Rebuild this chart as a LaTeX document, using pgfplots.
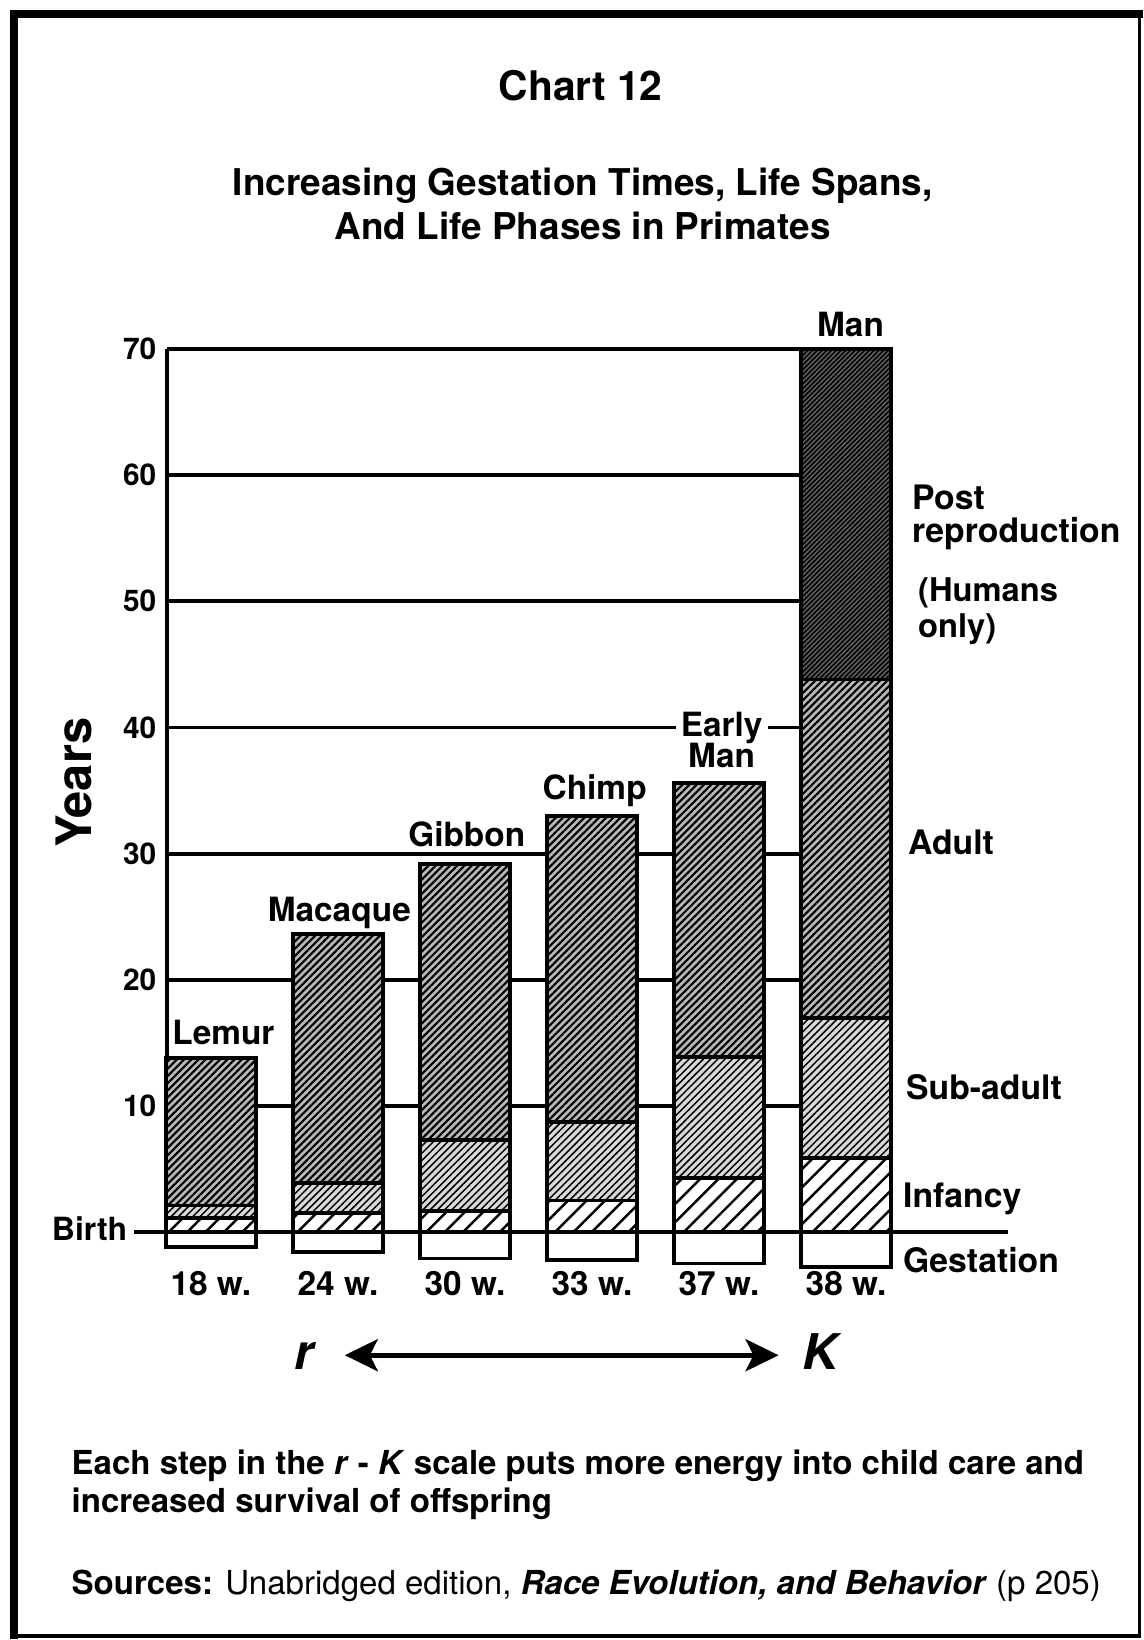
\documentclass[border=0pt]{standalone}
\usepackage{pgfplots}
\pgfplotsset{compat=1.18}
\usetikzlibrary{patterns.meta,arrows.meta}
\usepackage{fontspec}
\setmainfont{TeX Gyre Heros}
\newcommand{\fs}[1]{\fontsize{#1}{#1}\selectfont}
\tikzset{
  barbase/.style={ybar, bar shift=0pt, draw=black, line width=1.1pt},
  postpat/.style={preaction={fill=black!62}, preaction={pattern={Lines[angle=45,distance=0.95pt,line width=0.45pt]}, pattern color=black}},
  adultpat/.style={preaction={fill=black!28}, preaction={pattern={Lines[angle=45,distance=1.45pt,line width=0.6pt]}, pattern color=black}},
  subpat/.style={preaction={fill=black!15}, preaction={pattern={Lines[angle=45,distance=1.45pt,line width=0.42pt]}, pattern color=black}},
  infpat/.style={preaction={fill=white}, preaction={pattern={Lines[angle=45,distance=3.7pt,line width=0.7pt]}, pattern color=black}},
  gestpat/.style={fill=white},
}
\begin{document}
\begin{tikzpicture}
\path[use as bounding box] (0,0) rectangle (11.44,-16.40);
\begin{axis}[
  at={(1.67cm,-12.32cm)}, anchor=south west,
  scale only axis, width=7.24cm, height=8.83cm,
  xmin=-0.346, xmax=5.354, ymin=0, ymax=70,
  clip=false,
  axis lines*=left,
  x axis line style={draw=none},
  y axis line style={line width=1.1pt},
  major tick length=0pt,
  xtick={0,1,2,3,4,5},
  xticklabels={18 w.,24 w.,30 w.,33 w.,37 w.,38 w.},
  xticklabel style={anchor=base, yshift=-0.63cm, font=\bfseries\fs{9.5pt}, inner sep=0pt},
  ytick={10,20,30,40,50,60,70},
  yticklabel style={anchor=east, inner sep=0pt, xshift=-0.1cm, font=\bfseries\fs{8.5pt}},
  /pgf/number format/assume math mode=true,
  ymajorgrids, grid style={black, line width=1.1pt},
  bar width=0.709,
]
% Post reproduction (Man only), top of bar
\addplot[barbase, postpat] coordinates {(5,70)};
% Adult: top of each bar
\addplot[barbase, adultpat] coordinates {(0,13.8) (1,23.6) (2,29.2) (3,33.0) (4,35.6) (5,43.8)};
% Sub-adult: top of phase
\addplot[barbase, subpat] coordinates {(0,2.1) (1,3.9) (2,7.3) (3,8.7) (4,13.9) (5,17.0)};
% Infancy: top of phase
\addplot[barbase, infpat] coordinates {(0,1.1) (1,1.5) (2,1.7) (3,2.5) (4,4.3) (5,5.9)};
% Gestation, drawn below birth
\addplot[barbase, gestpat] coordinates {(0,-1.2) (1,-1.6) (2,-2.1) (3,-2.2) (4,-2.5) (5,-2.8)};
\draw[line width=1.1pt] (axis cs:-0.606,0) -- (axis cs:6.276,0);
\end{axis}
\begin{scope}[x=0.01cm,y=-0.01cm, every node/.style={inner sep=0pt}]
  \draw[line width=2.3pt] (14,1640) -- (14,14) -- (1144,14);
  \draw[line width=0.9pt] (1140,14) -- (1140,1637) -- (14,1637);
  \node[anchor=base, font=\bfseries\fs{11.6pt}] at (581,101) {Chart 12};
  \node[anchor=base, font=\bfseries\fs{10.5pt}] at (583,196) {Increasing Gestation Times, Life Spans,};
  \node[anchor=base, font=\bfseries\fs{10.5pt}] at (583,240) {And Life Phases in Primates};
  \node[rotate=90, font=\bfseries\fs{13.9pt}] at (74,783) {Years};
  \node[anchor=base east, font=\bfseries\fs{9.1pt}] at (128,1241) {Birth};
  \begin{scope}[every node/.append style={anchor=base, font=\bfseries\fs{9.5pt}}]
    \node at (223.5,1045) {Lemur};
    \node at (339.5,922) {Macaque};
    \node at (467,847) {Gibbon};
    \node at (595,800) {Chimp};
    \node[fill=white, inner xsep=1.5pt, inner ysep=1pt] at (722,737) {Early};
    \node at (722,768) {Man};
    \node at (851,337) {Man};
  \end{scope}
  \begin{scope}[every node/.append style={anchor=base west, font=\bfseries\fs{9.6pt}}]
    \node at (912,510) {Post};
    \node at (912,543) {reproduction};
    \node[font=\bfseries\fs{9.3pt}] at (918,602) {(Humans};
    \node[font=\bfseries\fs{9.3pt}] at (918,638) {only)};
    \node at (908,855) {Adult};
    \node at (906,1100) {Sub-adult};
    \node at (903,1208) {Infancy};
    \node at (903,1273) {Gestation};
  \end{scope}
  \node[anchor=base, font=\bfseries\itshape\fs{14pt}] at (304,1370) {r};
  \node[anchor=base, font=\bfseries\itshape\fs{14pt}] at (821,1370) {K};
  \draw[line width=1.4pt, {Stealth[length=0.33cm,width=0.32cm,inset=0.08cm]}-{Stealth[length=0.33cm,width=0.32cm,inset=0.08cm]}] (345,1356) -- (779,1356);
  \node[anchor=base west, font=\bfseries\fs{9.4pt}] at (71,1475) {Each step in the \textit{r} - \textit{K} scale puts more energy into child care and};
  \node[anchor=base west, font=\bfseries\fs{9.4pt}] at (71,1513) {increased survival of offspring};
  \node[anchor=base west, font=\fs{9.4pt}] at (71,1595) {\textbf{Sources:} Unabridged edition, \textbf{\textit{Race Evolution, and Behavior}} (p 205)};
\end{scope}
\end{tikzpicture}
\end{document}
